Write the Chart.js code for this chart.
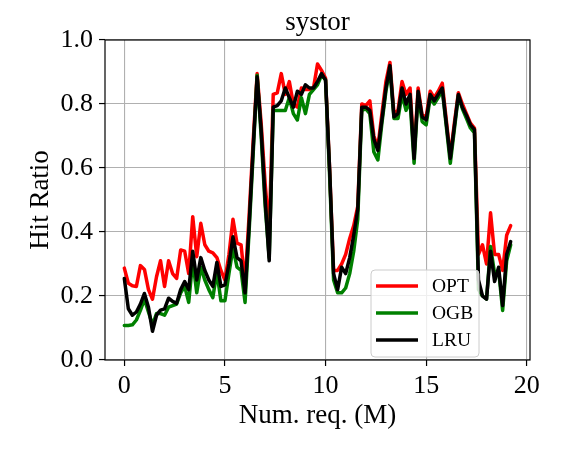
<!DOCTYPE html>
<html>
<head>
<meta charset="utf-8">
<script src="https://cdn.jsdelivr.net/npm/chart.js@4.4.1/dist/chart.umd.min.js"></script>
<style>
html,body{margin:0;padding:0;background:#fff;}
#c{display:block;}
</style>
</head>
<body>
<canvas id="c" width="573" height="459"></canvas>
<script>
// ---- data ----
const numReq = [0,0.2,0.4,0.6,0.8,1,1.2,1.4,1.6,1.8,2,2.2,2.4,2.6,2.8,3,3.2,3.4,3.6,3.8,
  4,4.2,4.4,4.6,4.8,5,5.2,5.4,5.6,5.8,6,6.2,6.4,6.6,6.8,7,7.2,7.4,7.6,7.8,
  8,8.2,8.4,8.6,8.8,9,9.2,9.4,9.6,9.8,10,10.2,10.4,10.6,10.8,11,11.2,11.4,11.6,11.8,
  12,12.2,12.4,12.6,12.8,13,13.2,13.4,13.6,13.8,14,14.2,14.4,14.6,14.8,15,15.2,15.4,15.6,15.8,
  16,16.2,16.4,16.6,16.8,17,17.2,17.4,17.6,17.8,18,18.2,18.4,18.6,18.8,19,19.2];

const opt = [0.287,0.24,0.232,0.23,0.295,0.283,0.22,0.19,0.26,0.31,
  0.23,0.31,0.27,0.255,0.344,0.34,0.27,0.448,0.323,0.427,
  0.36,0.34,0.335,0.32,0.28,0.25,0.33,0.44,0.365,0.36,
  0.24,0.45,0.68,0.895,0.74,0.55,0.40,0.83,0.835,0.895,
  0.83,0.87,0.80,0.79,0.85,0.845,0.845,0.85,0.925,0.905,
  0.88,0.60,0.28,0.28,0.30,0.33,0.38,0.42,0.48,0.80,
  0.795,0.81,0.70,0.665,0.77,0.87,0.93,0.77,0.78,0.87,
  0.83,0.85,0.645,0.85,0.765,0.76,0.84,0.82,0.84,0.865,
  0.75,0.635,0.74,0.835,0.80,0.77,0.74,0.725,0.33,0.36,
  0.30,0.46,0.33,0.33,0.28,0.39,0.42];

const ogb = [0.108,0.108,0.11,0.125,0.155,0.19,0.15,0.11,0.145,0.145,
  0.14,0.165,0.17,0.175,0.21,0.23,0.18,0.31,0.21,0.29,
  0.25,0.22,0.195,0.275,0.185,0.185,0.27,0.35,0.29,0.28,
  0.18,0.40,0.64,0.89,0.70,0.48,0.32,0.78,0.78,0.78,
  0.78,0.82,0.77,0.75,0.82,0.77,0.83,0.845,0.86,0.89,
  0.875,0.58,0.25,0.21,0.21,0.225,0.27,0.34,0.44,0.78,
  0.785,0.77,0.65,0.625,0.74,0.84,0.91,0.755,0.755,0.83,
  0.78,0.81,0.615,0.83,0.745,0.735,0.82,0.80,0.82,0.845,
  0.73,0.615,0.72,0.825,0.785,0.755,0.725,0.71,0.22,0.20,
  0.19,0.355,0.27,0.28,0.155,0.31,0.36];

const lru = [0.255,0.16,0.14,0.15,0.175,0.208,0.165,0.09,0.14,0.156,
  0.16,0.193,0.183,0.177,0.22,0.245,0.22,0.34,0.25,0.32,
  0.28,0.25,0.23,0.305,0.23,0.235,0.30,0.385,0.32,0.31,
  0.21,0.42,0.66,0.885,0.72,0.50,0.31,0.79,0.795,0.81,
  0.85,0.82,0.79,0.84,0.83,0.86,0.85,0.85,0.87,0.895,
  0.875,0.60,0.27,0.22,0.29,0.27,0.32,0.39,0.47,0.79,
  0.79,0.78,0.69,0.655,0.75,0.85,0.92,0.76,0.77,0.85,
  0.80,0.83,0.63,0.84,0.76,0.75,0.83,0.81,0.83,0.85,
  0.74,0.63,0.73,0.83,0.79,0.765,0.735,0.72,0.25,0.20,
  0.19,0.34,0.245,0.29,0.17,0.33,0.37];

const xTicks = [0,5,10,15,20];
const yTicks = [0.0,0.2,0.4,0.6,0.8,1.0];
const seriesNames = ['OPT','OGB','LRU'];
const seriesColors = ['#ff0000','#008000','#000000'];
const chartTitle = 'systor';

// ---- chart ----
const FONT = 'Liberation Serif';
function pts(vals){ return vals.map((v,i)=>({x:numReq[i], y:v})); }

const frame = {
  id:'frame',
  afterDatasetsDraw(chart){
    const {ctx, chartArea:a} = chart;
    ctx.save();
    ctx.strokeStyle = '#000';
    ctx.lineWidth = 1.2;
    ctx.strokeRect(a.left, a.top, a.right-a.left, a.bottom-a.top);
    ctx.restore();
  }
};

const axesTitle = {
  id:'axesTitle',
  afterDraw(chart){
    const {ctx, chartArea:a} = chart;
    ctx.save();
    ctx.font = '27px "' + FONT + '"';
    ctx.fillStyle = '#000';
    ctx.textAlign = 'center';
    ctx.textBaseline = 'alphabetic';
    ctx.fillText(chartTitle, (a.left + a.right)/2, 30);
    ctx.restore();
  }
};

const boxLegend = {
  id:'boxLegend',
  afterDraw(chart){
    const ctx = chart.ctx;
    const bx = 371, by = 270, bw = 108, bh = 87, r = 4;
    ctx.save();
    ctx.beginPath();
    ctx.moveTo(bx+r,by);
    ctx.lineTo(bx+bw-r,by); ctx.arcTo(bx+bw,by,bx+bw,by+r,r);
    ctx.lineTo(bx+bw,by+bh-r); ctx.arcTo(bx+bw,by+bh,bx+bw-r,by+bh,r);
    ctx.lineTo(bx+r,by+bh); ctx.arcTo(bx,by+bh,bx,by+bh-r,r);
    ctx.lineTo(bx,by+r); ctx.arcTo(bx,by,bx+r,by,r);
    ctx.closePath();
    ctx.fillStyle = 'rgba(255,255,255,0.8)';
    ctx.fill();
    ctx.strokeStyle = '#cccccc';
    ctx.lineWidth = 1;
    ctx.stroke();
    ctx.font = '19.5px "' + FONT + '"';
    ctx.textBaseline = 'middle';
    ctx.textAlign = 'left';
    chart.data.datasets.forEach((ds, k) => {
      const y = 286 + k*27;
      ctx.strokeStyle = ds.borderColor;
      ctx.lineWidth = 3.5;
      ctx.beginPath(); ctx.moveTo(376,y); ctx.lineTo(418,y); ctx.stroke();
      ctx.fillStyle = '#000';
      ctx.fillText(ds.label, 432, y+1);
    });
    ctx.restore();
  }
};

new Chart(document.getElementById('c'), {
  type:'line',
  data:{
    datasets:[
      {label:seriesNames[0], data:pts(opt), borderColor:seriesColors[0], order:3},
      {label:seriesNames[1], data:pts(ogb), borderColor:seriesColors[1], order:2},
      {label:seriesNames[2], data:pts(lru), borderColor:seriesColors[2], order:1}
    ]
  },
  options:{
    responsive:false,
    animation:false,
    devicePixelRatio:1,
    layout:{padding:{left:0,right:43,top:40,bottom:0}},
    elements:{
      point:{radius:0, hoverRadius:0},
      line:{tension:0, borderWidth:3.5, fill:false, borderJoinStyle:'round', borderCapStyle:'round'}
    },
    plugins:{
      legend:{display:false},
      tooltip:{enabled:false},
      title:{display:false}
    },
    scales:{
      x:{
        type:'linear', min:-0.96, max:20.16,
        afterBuildTicks(s){ s.ticks = xTicks.map(v=>({value:v})); },
        ticks:{stepSize:5, includeBounds:false, autoSkip:false, maxRotation:0,
          color:'#000', padding:5, font:{family:FONT, size:26}},
        grid:{color:'#b0b0b0', lineWidth:1.1, tickLength:6, tickColor:'#000', tickWidth:1.2},
        border:{display:false},
        title:{display:true, text:'Num. req. (M)', color:'#000',
          font:{family:FONT, size:27, lineHeight:1.2}, padding:{top:0,bottom:27}},
        afterFit(s){ s.height = 99; }
      },
      y:{
        min:0, max:1,
        afterBuildTicks(s){ s.ticks = yTicks.map(v=>({value:v})); },
        ticks:{stepSize:0.2, includeBounds:false, color:'#000', padding:6,
          font:{family:FONT, size:26}, callback:v=>Number(v).toFixed(1)},
        grid:{color:'#b0b0b0', lineWidth:1.1, tickLength:6, tickColor:'#000', tickWidth:1.2},
        border:{display:false},
        title:{display:true, text:'Hit Ratio', color:'#000',
          font:{family:FONT, size:27, lineHeight:1.2}, padding:{top:25,bottom:0}},
        afterFit(s){ s.width = 105; }
      }
    }
  },
  plugins:[frame, axesTitle, boxLegend]
});
</script>
</body>
</html>
